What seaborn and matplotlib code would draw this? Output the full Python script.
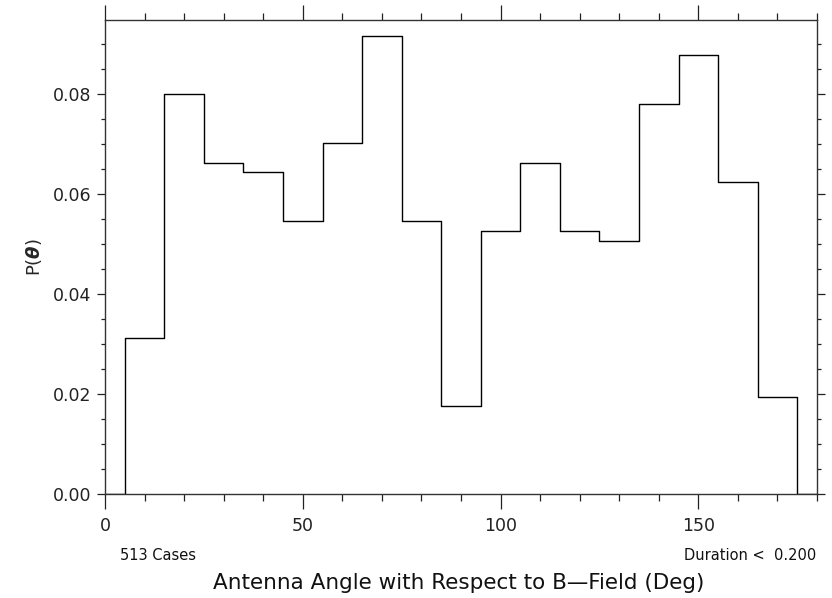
import matplotlib
matplotlib.use("Agg")
import matplotlib.pyplot as plt
import seaborn as sns
import pandas as pd
import numpy as np
from matplotlib.ticker import MultipleLocator

# Bin centres (deg) and counts per 10-degree bin (513 cases total)
angles = [0, 10, 20, 30, 40, 50, 60, 70, 80, 90, 100, 110, 120, 130, 140, 150, 160, 170, 180]
counts = [0, 16, 41, 34, 33, 28, 36, 47, 28, 9, 27, 34, 27, 26, 40, 45, 32, 10, 0]
n_cases = 513
x_ticks = [0, 50, 100, 150]
y_ticks = [0.00, 0.02, 0.04, 0.06, 0.08]
y_tick_labels = ["0.00", "0.02", "0.04", "0.06", "0.08"]

df = pd.DataFrame({"angle": angles, "p": [c / n_cases for c in counts]})

sns.set_style("ticks")
plt.rcParams["font.family"] = ["DejaVu Sans"]

fig = plt.figure(figsize=(8.32, 5.98), dpi=100)
ax = fig.add_axes([105 / 832, 1 - 494 / 598, (817 - 105) / 832, (494 - 20) / 598])

sns.lineplot(data=df, x="angle", y="p", ax=ax, drawstyle="steps-mid",
             color="black", linewidth=1.0)

ax.set_xlim(0, 180)
ax.set_ylim(0, 0.0948)
ax.set_xticks(x_ticks)
ax.set_xticklabels([str(t) for t in x_ticks])
ax.set_yticks(y_ticks)
ax.set_yticklabels(y_tick_labels)
ax.xaxis.set_minor_locator(MultipleLocator(10))
ax.yaxis.set_minor_locator(MultipleLocator(0.005))

for s in ax.spines.values():
    s.set_visible(True)
    s.set_linewidth(1.0)
    s.set_color("#333333")

ax.tick_params(axis="x", which="major", direction="out", length=10.5, width=0.9,
               top=True, bottom=True, labelsize=12.5, pad=6, colors="#222222")
ax.tick_params(axis="x", which="minor", direction="out", length=5, width=0.9,
               top=True, bottom=True, colors="#222222")
ax.tick_params(axis="y", which="major", direction="out", length=6, width=0.9,
               left=True, right=True, labelsize=12.5, pad=4, colors="#222222")
ax.tick_params(axis="y", which="minor", direction="out", length=3, width=0.9,
               left=True, right=True, colors="#222222")

ax.set_xlabel("")
ax.set_ylabel(r"P($\boldsymbol{\theta}$)", fontsize=13, labelpad=6)

fig.text(459 / 832, 1 - 583 / 598,
         "Antenna Angle with Respect to B\u2014Field (Deg)",
         ha="center", va="center", fontsize=15.5, color="#111111")
fig.text(120 / 832, 1 - 555 / 598, "513 Cases", ha="left", va="center",
         fontsize=10.5, color="#111111")
fig.text(816 / 832, 1 - 555 / 598, "Duration <  0.200", ha="right", va="center",
         fontsize=10.5, color="#111111")

fig.savefig("out.png", dpi=100)
